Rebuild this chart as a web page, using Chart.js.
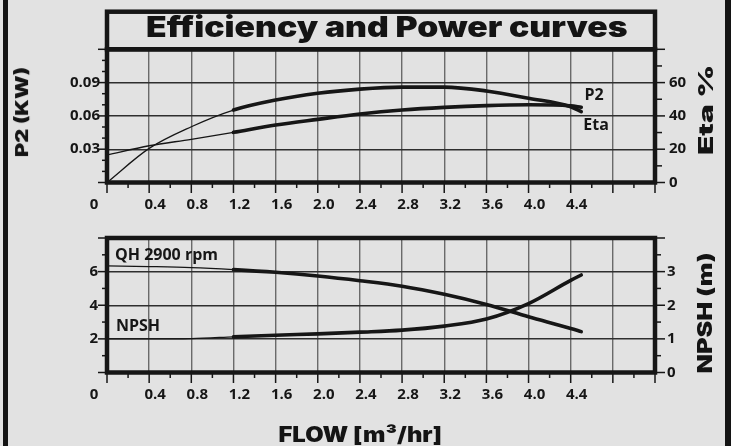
<!DOCTYPE html>
<html>
<head>
<meta charset="utf-8">
<script src="https://cdn.jsdelivr.net/npm/chart.js@4.4.1/dist/chart.umd.min.js"></script>
<style>
  html, body { margin: 0; padding: 0; background: #e2e2e2; }
  #page { position: relative; width: 731px; height: 446px; overflow: hidden; background: #e2e2e2; }
  canvas { position: absolute; left: 0; }
  #power-chart { top: 0; }
  #head-chart { top: 215px; }
  .frame { position: absolute; top: 0; height: 446px; background: #141414; }
  .heavy {
    position: absolute;
    font-family: "Inter", "Roboto", "DejaVu Sans", sans-serif;
    font-weight: 900;
    color: #141414;
    white-space: nowrap;
    line-height: 1;
  }
</style>
</head>
<body>
<div id="page">
  <div class="frame" style="left:3px;width:4.5px"></div>
  <div class="frame" style="left:725px;width:6px"></div>
  <canvas id="power-chart" width="731" height="215"></canvas>
  <canvas id="head-chart" width="731" height="231"></canvas>
  <span class="heavy" id="main-title" style="font-size:28px">Efficiency and Power curves</span>
  <span class="heavy" id="p2-title" style="font-size:18px">P2 (KW)</span>
  <span class="heavy" id="eta-title" style="font-size:20px">Eta %</span>
  <span class="heavy" id="npsh-title" style="font-size:20px">NPSH (m)</span>
  <span class="heavy" id="flow-title" style="font-size:21px">FLOW [m³/hr]</span>
</div>
<script>
// flow points (m3/hr)
const flow = [0, 0.4, 0.8, 1.2, 1.6, 2.0, 2.4, 2.8, 3.2, 3.6, 4.0, 4.4, 4.5];
const p2Kw = [0.0248, 0.0331, 0.0389, 0.0452, 0.0518, 0.0569, 0.0617, 0.0653, 0.0677, 0.0693, 0.07, 0.069, 0.0678];
const etaPct = [0, 20.5, 33.5, 43.5, 49.5, 53.6, 56.1, 57.3, 57.3, 55.0, 50.6, 45.5, 42.5];
const headM = [6.34, 6.3, 6.24, 6.12, 5.96, 5.74, 5.46, 5.13, 4.65, 4.05, 3.32, 2.62, 2.43];
const npshM = [1.0, 1.0, 1.01, 1.06, 1.11, 1.15, 1.2, 1.26, 1.38, 1.59, 2.05, 2.74, 2.9];
const dutyStart = 1.2; // curves are drawn heavy from here on

const flowLabels = ["0", "0.4", "0.8", "1.2", "1.6", "2.0", "2.4", "2.8", "3.2", "3.6", "4.0", "4.4"];
const p2Labels = ["0.03", "0.06", "0.09"];
const etaLabels = ["0", "20", "40", "60"];
const headLabels = ["2", "4", "6"];
const npshLabels = ["0", "1", "2", "3"];

const powerNotes = [
  { text: "P2", x: 4.53, y: 0.0788, axis: "p2" },
  { text: "Eta", x: 4.52, y: 34.5, axis: "eta" },
];
const headNotes = [
  { text: "QH 2900 rpm", x: 0.076, y: 6.95, axis: "head" },
  { text: "NPSH", x: 0.085, y: 1.36, axis: "npsh" },
];

const palette = {
  ink: "#161616",
  grid: "#6a6a6a",
  gridDark: "#2e2e2e",
};
const tickFont = { family: '"Open Sans", "DejaVu Sans", sans-serif', weight: "700", size: 15 };

function isMultiple(value, step) {
  const ratio = value / step;
  return Math.abs(ratio - Math.round(ratio)) < 1e-6;
}

function labelFor(labels, value) {
  return labels.find((label) => Math.abs(Number(label) - value) < 1e-9) ?? "";
}

function fixedSize(prop, size) {
  return (scale) => {
    scale[prop] = size;
  };
}

function flowAxis(height) {
  return {
    type: "linear",
    position: "bottom",
    min: 0,
    max: 5.2,
    afterFit: fixedSize("height", height),
    grid: {
      drawTicks: false,
      lineWidth: 1.4,
      color: (c) => (isMultiple(c.tick.value, 0.4) ? palette.grid : "transparent"),
    },
    border: { display: false },
    ticks: {
      stepSize: 0.2,
      autoSkip: false,
      maxRotation: 0,
      padding: 13,
      labelOffset: 6,
      color: palette.ink,
      font: tickFont,
      callback: (value) => (value === 0 ? "" : labelFor(flowLabels, value)),
    },
  };
}

function valueAxis({ position, min, max, step, labels, width, padding, gridColor }) {
  return {
    type: "linear",
    position,
    min,
    max,
    afterFit: fixedSize("width", width),
    grid: {
      display: Boolean(gridColor),
      drawTicks: false,
      lineWidth: 1.4,
      color: (c) => {
        const v = c.tick.value;
        return v > min && v < max && labelFor(labels, v) ? gridColor : "transparent";
      },
    },
    border: { display: false },
    ticks: {
      stepSize: step,
      autoSkip: false,
      padding,
      color: palette.ink,
      font: tickFont,
      callback: (value) => labelFor(labels, value),
    },
  };
}

function curve(label, values, axisId) {
  return {
    label,
    yAxisID: axisId,
    data: flow.map((x, i) => ({ x, y: values[i] })),
    borderColor: palette.ink,
    borderWidth: 3.6,
    pointRadius: 0,
    cubicInterpolationMode: "monotone",
    borderCapStyle: "round",
    borderJoinStyle: "round",
    segment: {
      borderWidth: (ctx) => (flow[ctx.p0DataIndex] < dutyStart ? 1.3 : 3.6),
    },
  };
}

// tick marks, heavy plot frame, title box, the offset "0" and the curve names
function chartDecor({ marks, notes, titleTop }) {
  return {
    id: "decor",
    afterDatasetsDraw(chart) {
      const { ctx, chartArea, scales } = chart;
      ctx.save();
      ctx.strokeStyle = palette.ink;
      ctx.lineWidth = 1.5;
      Object.entries(marks).forEach(([id, spec]) => {
        const scale = scales[id];
        scale.ticks.forEach((tick) => {
          const len = isMultiple(tick.value, spec.every) ? spec.major : spec.minor;
          const p = scale.getPixelForValue(tick.value);
          ctx.beginPath();
          if (scale.isHorizontal()) {
            ctx.moveTo(p, chartArea.bottom);
            ctx.lineTo(p, chartArea.bottom + len);
          } else if (scale.position === "left") {
            ctx.moveTo(chartArea.left, p);
            ctx.lineTo(chartArea.left - len, p);
          } else {
            ctx.moveTo(chartArea.right, p);
            ctx.lineTo(chartArea.right + len, p);
          }
          ctx.stroke();
        });
      });

      ctx.lineWidth = 4.5;
      const w = chartArea.right - chartArea.left;
      ctx.strokeRect(chartArea.left, chartArea.top, w, chartArea.bottom - chartArea.top);
      if (titleTop !== undefined) {
        ctx.strokeRect(chartArea.left, titleTop, w, chartArea.top - titleTop);
      }

      ctx.fillStyle = palette.ink;
      ctx.font = `${tickFont.weight} ${tickFont.size}px ${tickFont.family}`;
      ctx.textAlign = "center";
      ctx.textBaseline = "middle";
      ctx.fillText(flowLabels[0], scales.x.getPixelForValue(0) - 13, chartArea.bottom + 13 + tickFont.size * 0.6);

      ctx.font = `700 16px ${tickFont.family}`;
      ctx.textAlign = "left";
      notes.forEach((note) => {
        ctx.fillText(note.text, scales.x.getPixelForValue(note.x), scales[note.axis].getPixelForValue(note.y));
      });
      ctx.restore();
    },
  };
}

function baseOptions(topPadding, scales) {
  return {
    responsive: false,
    animation: false,
    devicePixelRatio: 1,
    events: [],
    layout: { padding: { top: topPadding, left: 0, right: 0, bottom: 0 } },
    plugins: { legend: { display: false }, tooltip: { enabled: false } },
    scales,
  };
}

function renderPowerChart() {
  new Chart(document.getElementById("power-chart"), {
    type: "line",
    data: { datasets: [curve("P2", p2Kw, "p2"), curve("Eta", etaPct, "eta")] },
    options: baseOptions(49.3, {
      x: flowAxis(32.5),
      p2: valueAxis({ position: "left", min: 0, max: 0.12, step: 0.01, labels: p2Labels, width: 107, padding: 7, gridColor: palette.gridDark }),
      eta: valueAxis({ position: "right", min: 0, max: 80, step: 10, labels: etaLabels, width: 76, padding: 14 }),
    }),
    plugins: [
      chartDecor({
        marks: {
          x: { every: 0.4, major: 10.5, minor: 5.5 },
          p2: { every: 0.03, major: 9, minor: 5 },
          eta: { every: 20, major: 10, minor: 7 },
        },
        notes: powerNotes,
        titleTop: 11.7,
      }),
    ],
  });
}

function renderHeadChart() {
  new Chart(document.getElementById("head-chart"), {
    type: "line",
    data: { datasets: [curve("QH 2900 rpm", headM, "head"), curve("NPSH", npshM, "npsh")] },
    options: baseOptions(23, {
      x: flowAxis(73.5),
      head: valueAxis({ position: "left", min: 0, max: 8, step: 1, labels: headLabels, width: 107, padding: 9, gridColor: palette.gridDark }),
      npsh: valueAxis({ position: "right", min: 0, max: 4, step: 0.5, labels: npshLabels, width: 76, padding: 12 }),
    }),
    plugins: [
      chartDecor({
        marks: {
          x: { every: 0.4, major: 10.5, minor: 5.5 },
          head: { every: 2, major: 9, minor: 5 },
          npsh: { every: 1, major: 10, minor: 6 },
        },
        notes: headNotes,
      }),
    ],
  });
}

// centre a heavy label on (cx, cy) and stretch it to the width seen in the picture
function placeText(id, cx, cy, width, angle = 0) {
  const el = document.getElementById(id);
  const natural = el.offsetWidth;
  el.style.left = `${cx - natural / 2}px`;
  el.style.top = `${cy - el.offsetHeight / 2}px`;
  el.style.transform = `rotate(${angle}deg) scaleX(${width / natural})`;
}

renderPowerChart();
renderHeadChart();
placeText("main-title", 387, 26.8, 482);
placeText("p2-title", 21.5, 112, 90, -90);
placeText("eta-title", 705.8, 110, 90, -90);
placeText("npsh-title", 704.5, 312.5, 121, -90);
placeText("flow-title", 360, 434.5, 163);
</script>
</body>
</html>
